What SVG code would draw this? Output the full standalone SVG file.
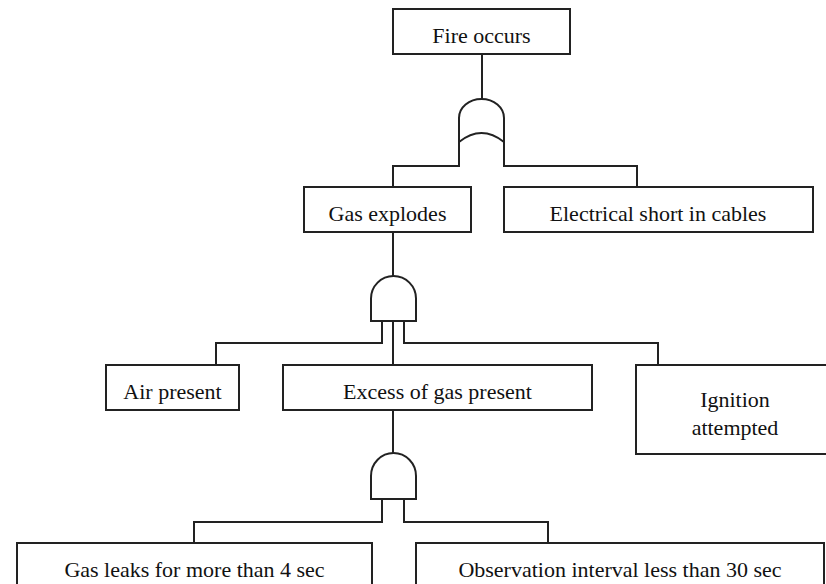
<svg xmlns="http://www.w3.org/2000/svg" width="826" height="584" viewBox="0 0 826 584">
<style>
.box{fill:#fff;stroke:#222;stroke-width:2}
.ln{fill:none;stroke:#222;stroke-width:2}
.gate{fill:#fff;stroke:#222;stroke-width:2}
.t{font-family:'Liberation Serif',Tinos,'Times New Roman','DejaVu Serif',serif;font-size:22px;fill:#111;text-anchor:middle}
</style>
<rect width="826" height="584" fill="#fff"/>
<g id="connectors">
<path class="ln" d="M482 54V99"/>
<path class="ln" d="M459 142V166H393V187"/>
<path class="ln" d="M504 142V166H637V187"/>
<path class="ln" d="M393 232V276"/>
<path class="ln" d="M382 321V343H216V365"/>
<path class="ln" d="M393 321V365"/>
<path class="ln" d="M404 321V343H658V365"/>
<path class="ln" d="M393 410V453"/>
<path class="ln" d="M382 499V522H194V543"/>
<path class="ln" d="M404 499V522H548V543"/>
</g>
<g id="gate-or">
<path class="gate" d="M459 142V118A22.5 19 0 0 1 504 118V142Q481.5 124 459 142Z"/>
</g>
<g id="gate-and-1">
<path class="gate" d="M371 321V298.5A22.5 22.5 0 0 1 416 298.5V321Z"/>
</g>
<g id="gate-and-2">
<path class="gate" d="M371 499V476A22.5 23 0 0 1 416 476V499Z"/>
</g>
<g id="fire-occurs">
<rect class="box" x="393" y="9" width="177" height="45"/>
<text class="t" x="481.5" y="43" font-family="Liberation Serif, serif">Fire occurs</text>
</g>
<g id="gas-explodes">
<rect class="box" x="304" y="187" width="167" height="45"/>
<text class="t" x="387.5" y="221">Gas explodes</text>
</g>
<g id="electrical-short">
<rect class="box" x="504" y="187" width="309" height="45"/>
<text class="t" x="658" y="221">Electrical short in cables</text>
</g>
<g id="air-present">
<rect class="box" x="106" y="365" width="133" height="45"/>
<text class="t" x="172.5" y="399">Air present</text>
</g>
<g id="excess-gas">
<rect class="box" x="283" y="365" width="309" height="45"/>
<text class="t" x="437.5" y="399">Excess of gas present</text>
</g>
<g id="ignition">
<rect class="box" x="636" y="365" width="198" height="89"/>
<text class="t" x="735" y="407">Ignition</text>
<text class="t" x="735" y="435">attempted</text>
</g>
<g id="gas-leaks">
<rect class="box" x="17" y="543" width="355" height="46"/>
<text class="t" x="194.5" y="577">Gas leaks for more than 4 sec</text>
</g>
<g id="observation">
<rect class="box" x="416" y="543" width="408" height="46"/>
<text class="t" x="620" y="577">Observation interval less than 30 sec</text>
</g>
</svg>
